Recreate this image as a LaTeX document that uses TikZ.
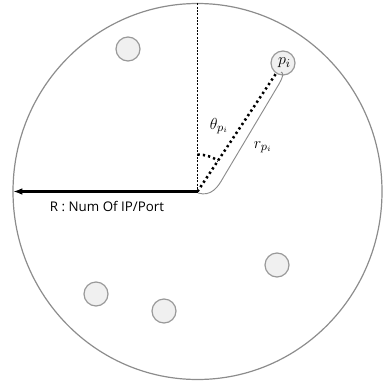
\documentclass[tikz,border=0pt]{standalone}
\usepackage{fontspec}
\setsansfont{Open Sans}
\usetikzlibrary{arrows.meta}
\definecolor{rimgray}{HTML}{8C8C8C}
\definecolor{dotfill}{HTML}{F0F0F0}
\definecolor{dotline}{HTML}{999999}
\tikzset{
  rim/.style={draw=rimgray, line width=0.9pt},
  host/.style={circle, draw=dotline, fill=dotfill, line width=0.9pt, minimum size=18pt, inner sep=0pt},
  fatdots/.style={line width=1.9pt, dash pattern=on 1.7pt off 2.3pt, black},
  finedash/.style={line width=0.8pt, dash pattern=on 1.5pt off 1pt, black},
  brace/.style={draw=rimgray, line width=0.7pt},
  lab/.style={font=\sffamily\fontsize{10}{12}\selectfont, inner sep=0pt},
  mlab/.style={inner sep=0pt, font=\fontsize{13}{15}\selectfont}
}
\begin{document}
\begin{tikzpicture}[x=0.75pt,y=-0.75pt]
\useasboundingbox (0,0) rectangle (384,381);
\coordinate (O) at (197.5,191.5);
\coordinate (T) at (197.5,3.5);
\coordinate (L) at (13,191.5);
\draw[rim] (O) ellipse [x radius=184.5, y radius=188];
% hosts
\node[host] (h1) at (128,49) {};
\node[host] (h2) at (96,294) {};
\node[host] (h3) at (164,311) {};
\node[host] (h4) at (277,265) {};
\node[host, minimum size=18pt] (pi) at (283,63) {};
\node[mlab] (pil) at (284.5,63) {$p_i$};
% vertical dashed
\draw[finedash] (T) -- (O);
% radius arrow
\draw[line width=1.8pt, -{Latex[length=7pt,width=5pt]}] (O) -- (L);
\node[lab] (rlab) at (107,206) {R : Num Of IP/Port};
% dotted line to p_i
\draw[fatdots] (O) -- (pi);
% angle arc
\draw[fatdots] (O) ++(0,-37) arc[start angle=-90, end angle=-56, radius=37];
\node[mlab] (th) at (219,126) {$\theta_{p_i}$};
\node[mlab] (rl) at (263,147) {$r_{p_i}$};
% brace
\draw[brace] (198,193) .. controls (211,197) and (218,187) .. (223,178) -- (279,84) .. controls (283,77) and (284,73) .. (281,72);
\end{tikzpicture}
\end{document}
